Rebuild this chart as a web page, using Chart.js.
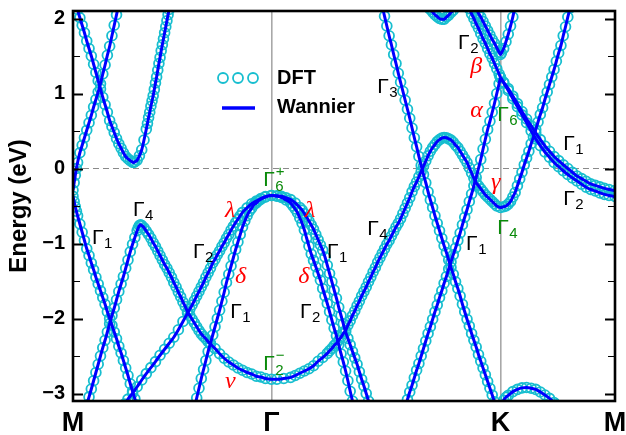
<!DOCTYPE html>
<html lang="en">
<head>
<meta charset="utf-8">
<title>Band structure: DFT vs Wannier</title>
<script src="https://cdn.jsdelivr.net/npm/chart.js@4.4.1/dist/chart.umd.min.js"></script>
<style>
  html, body { margin: 0; padding: 0; background: #fff; }
  #box { position: relative; width: 626px; height: 435px; }
</style>
</head>
<body>
<div id="box"><canvas id="bands" width="626" height="435"></canvas></div>
<script>
// High-symmetry path M–Γ–K–M, path length in units of |ΓK|
const kPath = [0, 0.866, 1.866, 2.366];
const kLabels = ['M', 'Γ', 'K', 'M'];
const eTicks = [-3, -2, -1, 0, 1, 2];
const eMin = -3.1, eMax = 2.1;
const fermiLevel = 0;
const seriesNames = ['DFT', 'Wannier'];

// Bands as [k, E (eV)] pairs
const band01 = [[0,-0.29],[0.005,-0.19],[0.01,-0.09],[0.015,0.0],[0.02,0.08],[0.03,0.21],[0.04,0.31],[0.05,0.41],[0.06,0.51],[0.07,0.61],[0.08,0.71],[0.09,0.82],[0.1,0.92],[0.11,1.02],[0.12,1.13],[0.13,1.26],[0.14,1.38],[0.15,1.51],[0.16,1.63],[0.17,1.77],[0.18,1.91],[0.19,2.05],[0.2,2.19]];
const band02 = [[0,-0.37],[0.005,-0.44],[0.01,-0.51],[0.015,-0.57],[0.02,-0.63],[0.03,-0.74],[0.04,-0.85],[0.05,-0.96],[0.06,-1.07],[0.07,-1.16],[0.08,-1.26],[0.09,-1.35],[0.1,-1.45],[0.11,-1.54],[0.12,-1.63],[0.13,-1.72],[0.14,-1.81],[0.15,-1.91],[0.16,-2.0],[0.17,-2.09],[0.18,-2.18],[0.19,-2.27],[0.2,-2.37],[0.21,-2.46],[0.22,-2.56],[0.23,-2.66],[0.24,-2.76],[0.25,-2.87],[0.26,-2.97],[0.27,-3.07],[0.28,-3.15]];
const band03 = [[0.015,2.2],[0.02,2.12],[0.03,2.01],[0.04,1.91],[0.05,1.81],[0.06,1.7],[0.07,1.6],[0.08,1.5],[0.09,1.39],[0.1,1.28],[0.11,1.17],[0.12,1.06],[0.13,0.95],[0.14,0.85],[0.15,0.75],[0.16,0.64],[0.17,0.56],[0.18,0.48],[0.19,0.4],[0.2,0.33],[0.21,0.27],[0.22,0.21],[0.23,0.16],[0.24,0.13],[0.25,0.105],[0.26,0.085],[0.265,0.08],[0.27,0.09],[0.28,0.11],[0.29,0.17],[0.3,0.25],[0.31,0.38],[0.32,0.525],[0.325,0.6],[0.33,0.68],[0.335,0.75],[0.34,0.83],[0.345,0.9],[0.35,0.97],[0.355,1.055],[0.36,1.14],[0.365,1.22],[0.37,1.31],[0.375,1.4],[0.38,1.48],[0.385,1.57],[0.39,1.65],[0.395,1.73],[0.4,1.81],[0.405,1.89],[0.41,1.97],[0.415,2.05],[0.42,2.12],[0.425,2.2]];
const band04 = [[0.056,-3.19],[0.06,-3.15],[0.07,-3.045],[0.08,-2.94],[0.09,-2.83],[0.1,-2.72],[0.11,-2.61],[0.12,-2.5],[0.13,-2.39],[0.14,-2.29],[0.15,-2.18],[0.16,-2.07],[0.17,-1.96],[0.18,-1.86],[0.19,-1.75],[0.2,-1.64],[0.21,-1.54],[0.22,-1.44],[0.23,-1.33],[0.24,-1.22],[0.25,-1.11],[0.26,-1.01],[0.27,-0.92],[0.28,-0.83],[0.285,-0.79],[0.29,-0.76],[0.295,-0.75],[0.3,-0.76],[0.31,-0.79],[0.32,-0.836],[0.33,-0.88],[0.34,-0.93],[0.35,-0.99],[0.36,-1.04],[0.37,-1.1],[0.38,-1.16],[0.39,-1.22],[0.4,-1.28],[0.41,-1.33],[0.42,-1.39],[0.43,-1.45],[0.44,-1.52],[0.45,-1.58],[0.46,-1.65],[0.47,-1.71],[0.48,-1.78],[0.49,-1.84],[0.5,-1.91],[0.51,-1.96],[0.52,-2.01],[0.53,-2.06],[0.54,-2.11],[0.55,-2.16],[0.56,-2.205],[0.57,-2.24],[0.58,-2.27],[0.59,-2.31],[0.6,-2.34],[0.62,-2.4],[0.64,-2.47],[0.66,-2.53],[0.68,-2.58],[0.7,-2.62],[0.72,-2.66],[0.74,-2.69],[0.76,-2.72],[0.78,-2.74],[0.8,-2.77],[0.82,-2.78],[0.84,-2.8],[0.866,-2.81],[0.89,-2.81],[0.92,-2.8],[0.95,-2.785],[0.97,-2.76],[0.99,-2.73],[1.01,-2.7],[1.03,-2.67],[1.05,-2.63],[1.07,-2.57],[1.09,-2.52],[1.11,-2.465],[1.12,-2.43],[1.13,-2.4],[1.14,-2.36],[1.15,-2.33],[1.16,-2.29],[1.17,-2.25],[1.18,-2.2],[1.19,-2.16],[1.2,-2.09],[1.21,-2.03],[1.22,-1.96],[1.23,-1.9],[1.24,-1.83],[1.25,-1.77],[1.26,-1.7],[1.27,-1.64],[1.28,-1.58],[1.29,-1.51],[1.3,-1.45],[1.31,-1.38],[1.32,-1.32],[1.33,-1.25],[1.34,-1.19],[1.35,-1.13],[1.36,-1.07],[1.37,-1.01],[1.38,-0.96],[1.39,-0.9],[1.4,-0.84],[1.41,-0.78],[1.42,-0.73],[1.43,-0.67],[1.44,-0.6],[1.45,-0.53],[1.46,-0.46],[1.47,-0.39],[1.48,-0.31],[1.49,-0.24],[1.5,-0.18],[1.51,-0.11],[1.52,-0.04],[1.53,0.03],[1.54,0.1],[1.55,0.17],[1.56,0.23],[1.57,0.28],[1.58,0.32],[1.59,0.36],[1.6,0.385],[1.61,0.405],[1.62,0.413],[1.63,0.41],[1.64,0.395],[1.65,0.38],[1.66,0.35],[1.67,0.31],[1.68,0.28],[1.69,0.23],[1.7,0.18],[1.71,0.13],[1.72,0.08],[1.73,0.01],[1.74,-0.06],[1.75,-0.13],[1.76,-0.19],[1.77,-0.23],[1.78,-0.27],[1.79,-0.31],[1.8,-0.35],[1.81,-0.38],[1.82,-0.41],[1.83,-0.44],[1.84,-0.47],[1.85,-0.5],[1.866,-0.52],[1.88,-0.51],[1.89,-0.5],[1.9,-0.475],[1.91,-0.44],[1.92,-0.38],[1.93,-0.32],[1.94,-0.23],[1.95,-0.14],[1.96,-0.05],[1.97,0.05],[1.98,0.14],[1.99,0.23],[2.0,0.33],[2.01,0.42],[2.02,0.52],[2.03,0.62],[2.04,0.72],[2.05,0.81],[2.06,0.92],[2.07,1.02],[2.08,1.12],[2.09,1.22],[2.1,1.32],[2.11,1.43],[2.12,1.54],[2.13,1.64],[2.14,1.77],[2.15,1.89],[2.16,2.02],[2.17,2.14],[2.175,2.2]];
const band05 = [[0.225,-3.14],[0.24,-3.075],[0.26,-2.995],[0.28,-2.91],[0.3,-2.82],[0.32,-2.735],[0.34,-2.655],[0.36,-2.575],[0.38,-2.49],[0.4,-2.41],[0.42,-2.33],[0.44,-2.25],[0.46,-2.15],[0.48,-2.04],[0.5,-1.93],[0.51,-1.875],[0.52,-1.82],[0.53,-1.76],[0.54,-1.7],[0.55,-1.64],[0.56,-1.58],[0.57,-1.52],[0.58,-1.45],[0.59,-1.39],[0.6,-1.33],[0.61,-1.26],[0.62,-1.21],[0.63,-1.15],[0.64,-1.1],[0.65,-1.04],[0.66,-0.99],[0.67,-0.93],[0.68,-0.88],[0.69,-0.82],[0.7,-0.77],[0.71,-0.72],[0.72,-0.675],[0.73,-0.63],[0.74,-0.585],[0.76,-0.525],[0.78,-0.47],[0.8,-0.435],[0.82,-0.4],[0.84,-0.375],[0.866,-0.36],[0.89,-0.363],[0.91,-0.37],[0.93,-0.39],[0.95,-0.415],[0.97,-0.46],[0.99,-0.52],[1.0,-0.555],[1.01,-0.6],[1.02,-0.65],[1.03,-0.7],[1.04,-0.755],[1.05,-0.81],[1.06,-0.88],[1.07,-0.95],[1.08,-1.02],[1.09,-1.09],[1.1,-1.18],[1.11,-1.29],[1.12,-1.4],[1.13,-1.51],[1.14,-1.62],[1.15,-1.73],[1.16,-1.85],[1.17,-1.96],[1.18,-2.07],[1.19,-2.18],[1.2,-2.265],[1.21,-2.35],[1.22,-2.44],[1.23,-2.525],[1.24,-2.61],[1.25,-2.71],[1.26,-2.81],[1.27,-2.9],[1.28,-3.0],[1.29,-3.1],[1.3,-3.19]];
const band06 = [[0.53,-3.19],[0.54,-3.06],[0.55,-2.93],[0.56,-2.8],[0.57,-2.68],[0.58,-2.56],[0.59,-2.44],[0.6,-2.33],[0.61,-2.22],[0.62,-2.11],[0.63,-2.0],[0.64,-1.89],[0.65,-1.77],[0.66,-1.65],[0.67,-1.52],[0.68,-1.41],[0.69,-1.3],[0.7,-1.19],[0.71,-1.08],[0.72,-0.98],[0.73,-0.88],[0.74,-0.78],[0.75,-0.7],[0.76,-0.63],[0.77,-0.57],[0.78,-0.53],[0.79,-0.48],[0.8,-0.46],[0.81,-0.43],[0.82,-0.41],[0.84,-0.38],[0.866,-0.36],[0.89,-0.37],[0.91,-0.385],[0.93,-0.42],[0.95,-0.46],[0.96,-0.5],[0.97,-0.54],[0.98,-0.59],[0.99,-0.66],[1.0,-0.73],[1.01,-0.82],[1.02,-0.93],[1.03,-1.035],[1.04,-1.14],[1.05,-1.225],[1.06,-1.31],[1.07,-1.4],[1.08,-1.49],[1.09,-1.6],[1.1,-1.7],[1.11,-1.8],[1.12,-1.91],[1.13,-2.02],[1.14,-2.13],[1.15,-2.23],[1.16,-2.35],[1.17,-2.47],[1.18,-2.58],[1.19,-2.7],[1.2,-2.83],[1.21,-2.97],[1.22,-3.1],[1.23,-3.23]];
const band07 = [[1.345,2.23],[1.35,2.16],[1.36,2.03],[1.37,1.9],[1.38,1.77],[1.39,1.65],[1.4,1.52],[1.41,1.4],[1.42,1.27],[1.43,1.15],[1.44,1.03],[1.45,0.91],[1.46,0.79],[1.47,0.67],[1.48,0.54],[1.49,0.41],[1.5,0.29],[1.51,0.16],[1.52,0.04],[1.53,-0.08],[1.54,-0.19],[1.55,-0.31],[1.56,-0.42],[1.57,-0.52],[1.58,-0.63],[1.59,-0.73],[1.6,-0.83],[1.61,-0.93],[1.62,-1.03],[1.63,-1.12],[1.64,-1.22],[1.65,-1.32],[1.66,-1.41],[1.67,-1.51],[1.68,-1.6],[1.69,-1.7],[1.7,-1.81],[1.71,-1.91],[1.72,-2.01],[1.73,-2.1],[1.74,-2.2],[1.75,-2.29],[1.76,-2.38],[1.77,-2.48],[1.78,-2.57],[1.79,-2.66],[1.8,-2.75],[1.81,-2.84],[1.82,-2.93],[1.83,-3.02],[1.84,-3.11],[1.85,-3.2]];
const band08 = [[1.45,-3.17],[1.46,-3.08],[1.47,-2.98],[1.48,-2.89],[1.49,-2.79],[1.5,-2.69],[1.51,-2.6],[1.52,-2.5],[1.53,-2.4],[1.54,-2.3],[1.55,-2.2],[1.56,-2.11],[1.57,-2.01],[1.58,-1.91],[1.59,-1.82],[1.6,-1.72],[1.61,-1.63],[1.62,-1.53],[1.63,-1.44],[1.64,-1.34],[1.65,-1.245],[1.66,-1.15],[1.67,-1.06],[1.68,-0.96],[1.69,-0.86],[1.7,-0.75],[1.71,-0.65],[1.72,-0.55],[1.73,-0.44],[1.74,-0.34],[1.75,-0.23],[1.76,-0.12],[1.77,0.0],[1.78,0.12],[1.79,0.26],[1.8,0.39],[1.81,0.52],[1.82,0.63],[1.83,0.75],[1.84,0.87],[1.85,1.0],[1.86,1.13],[1.866,1.213]];
const band09 = [[1.72,2.2],[1.73,2.13],[1.74,2.06],[1.75,2.0],[1.76,1.93],[1.77,1.87],[1.78,1.8],[1.79,1.73],[1.8,1.67],[1.81,1.6],[1.82,1.53],[1.83,1.47],[1.84,1.4],[1.85,1.33],[1.86,1.26],[1.866,1.213]];
const band10 = [[1.75,2.21],[1.76,2.14],[1.77,2.07],[1.78,2.02],[1.79,1.96],[1.8,1.9],[1.81,1.84],[1.82,1.78],[1.83,1.72],[1.84,1.67],[1.85,1.61],[1.86,1.55],[1.866,1.52],[1.87,1.54],[1.88,1.6],[1.89,1.69],[1.9,1.79],[1.91,1.9],[1.92,2.02],[1.93,2.17]];
const band11 = [[1.54,2.19],[1.55,2.15],[1.56,2.12],[1.57,2.085],[1.58,2.05],[1.59,2.025],[1.6,2.0],[1.61,1.99],[1.62,1.99],[1.63,2.02],[1.64,2.045],[1.65,2.08],[1.66,2.11],[1.67,2.16],[1.68,2.2]];
const band12 = [[1.866,1.213],[1.88,1.15],[1.9,1.065],[1.92,0.965],[1.94,0.865],[1.96,0.76],[1.98,0.66],[2.0,0.57],[2.02,0.475],[2.04,0.385],[2.06,0.3],[2.08,0.23],[2.1,0.16],[2.12,0.105],[2.14,0.05],[2.16,0.0],[2.18,-0.05],[2.2,-0.1],[2.22,-0.135],[2.24,-0.17],[2.26,-0.205],[2.28,-0.225],[2.3,-0.245],[2.32,-0.265],[2.34,-0.28],[2.366,-0.293]];
const band13 = [[1.866,1.213],[1.88,1.14],[1.9,1.04],[1.92,0.93],[1.94,0.825],[1.96,0.715],[1.98,0.61],[2.0,0.5],[2.02,0.395],[2.04,0.305],[2.06,0.22],[2.08,0.15],[2.1,0.08],[2.12,0.025],[2.14,-0.03],[2.16,-0.08],[2.18,-0.125],[2.2,-0.165],[2.22,-0.21],[2.24,-0.25],[2.26,-0.28],[2.28,-0.3],[2.3,-0.325],[2.32,-0.345],[2.34,-0.36],[2.366,-0.373]];
const band14 = [[1.87,-3.18],[1.88,-3.09],[1.89,-3.05],[1.9,-3.025],[1.92,-2.975],[1.94,-2.945],[1.96,-2.925],[1.98,-2.92],[2.0,-2.93],[2.02,-2.945],[2.04,-2.98],[2.06,-3.02],[2.08,-3.065],[2.1,-3.12],[2.11,-3.15]];

const bands = [band01, band02, band03, band04, band05, band06, band07,
               band08, band09, band10, band11, band12, band13, band14];

// Irreducible-representation tags (Γ with sub/superscript) and Greek band names
const irrepTags = [
  { sub: '4', k: 0.262, e: -0.627, color: '#000' },
  { sub: '1', k: 0.083, e: -1.013, color: '#000' },
  { sub: '2', k: 0.524, e: -1.187, color: '#000' },
  { sub: '1', k: 0.686, e: -1.987, color: '#000' },
  { sub: '6', sup: '+', k: 0.830, e: -0.227, color: '#0a8a0a' },
  { sub: '2', sup: '\u2212', k: 0.830, e: -2.68, color: '#0a8a0a' },
  { sub: '1', k: 1.109, e: -1.187, color: '#000' },
  { sub: '2', k: 0.991, e: -1.987, color: '#000' },
  { sub: '4', k: 1.284, e: -0.88, color: '#000' },
  { sub: '3', k: 1.328, e: 1.013, color: '#000' },
  { sub: '2', k: 1.681, e: 1.587, color: '#000' },
  { sub: '6', k: 1.852, e: 0.627, color: '#0a8a0a' },
  { sub: '1', k: 2.140, e: 0.253, color: '#000' },
  { sub: '2', k: 2.140, e: -0.48, color: '#000' },
  { sub: '4', k: 1.852, e: -0.867, color: '#0a8a0a' },
  { sub: '1', k: 1.716, e: -1.08, color: '#000' }
];
const greekTags = [
  { t: 'λ', k: 0.664, e: -0.64 },
  { t: 'λ', k: 1.013, e: -0.64 },
  { t: 'δ', k: 0.707, e: -1.52 },
  { t: 'δ', k: 0.983, e: -1.52 },
  { t: 'ν', k: 0.664, e: -2.92 },
  { t: 'β', k: 1.734, e: 1.28 },
  { t: 'α', k: 1.734, e: 0.693 },
  { t: 'γ', k: 1.825, e: -0.267 }
];

const CYAN = '#17becf';
const BLUE = '#0000ff';
const SANS = '"Liberation Sans", Arial, sans-serif';
const SERIF = '"Liberation Serif", "Times New Roman", serif';

const toXY = b => b.map(([k, e]) => ({ x: k, y: e }));

const datasets = [];
bands.forEach(b => {
  datasets.push({
    label: seriesNames[1], data: toXY(b), showLine: true,
    borderColor: BLUE, borderWidth: 3, pointRadius: 0,
    borderJoinStyle: 'round', cubicInterpolationMode: 'monotone',
    order: 1, clip: 0
  });
  datasets.push({
    label: seriesNames[0], data: toXY(b), showLine: false,
    pointRadius: 4.9, pointStyle: 'circle',
    pointBorderColor: CYAN, pointBackgroundColor: 'rgba(0,0,0,0)', pointBorderWidth: 1.8,
    order: 2, clip: 0
  });
});
// Fermi level
datasets.push({
  data: [{ x: kPath[0], y: fermiLevel }, { x: kPath[kPath.length - 1], y: fermiLevel }],
  showLine: true, borderColor: '#8a8a8a', borderWidth: 1.2, borderDash: [6, 4],
  pointRadius: 0, order: 3, clip: 0
});

// Frame and inward ticks on both energy axes
const framePlugin = {
  id: 'frame',
  afterDatasetsDraw(chart) {
    const { ctx, chartArea: a, scales: { y } } = chart;
    ctx.save();
    ctx.strokeStyle = '#000';
    const minor = eTicks.slice(0, -1).map(v => v + 0.5);
    const tick = (v, len, lw) => {
      const py = Math.round(y.getPixelForValue(v)) + 0.5;
      ctx.lineWidth = lw;
      ctx.beginPath();
      ctx.moveTo(a.left, py); ctx.lineTo(a.left + len, py);
      ctx.moveTo(a.right, py); ctx.lineTo(a.right - len, py);
      ctx.stroke();
    };
    eTicks.forEach(v => tick(v, 10, 1.8));
    minor.forEach(v => tick(v, 7, 1.2));
    ctx.lineWidth = 2.6;
    ctx.strokeRect(a.left, a.top, a.right - a.left, a.bottom - a.top);
    ctx.restore();
  }
};

// Band labels placed in (k, E) through the scales
const tagPlugin = {
  id: 'bandTags',
  afterDatasetsDraw(chart) {
    const { ctx, scales: { x, y } } = chart;
    ctx.save();
    ctx.textAlign = 'left';
    ctx.textBaseline = 'alphabetic';
    irrepTags.forEach(t => {
      const px = x.getPixelForValue(t.k), py = y.getPixelForValue(t.e);
      ctx.fillStyle = t.color;
      ctx.font = '21px ' + SANS;
      ctx.fillText('Γ', px, py);
      const w = ctx.measureText('Γ').width;
      ctx.font = '15px ' + SANS;
      if (t.sub) ctx.fillText(t.sub, px + w + 0.5, py + (t.sup ? 5 : 4));
      if (t.sup) ctx.fillText(t.sup, px + w + 1, py - 10);
    });
    ctx.fillStyle = '#ff0000';
    ctx.font = 'italic 24px ' + SERIF;
    greekTags.forEach(t => {
      ctx.fillText(t.t, x.getPixelForValue(t.k), y.getPixelForValue(t.e));
    });
    ctx.restore();
  }
};

// Series key (open circles for DFT, solid line for Wannier)
const keyPlugin = {
  id: 'seriesKey',
  afterDatasetsDraw(chart) {
    const ctx = chart.ctx;
    ctx.save();
    ctx.strokeStyle = CYAN;
    ctx.lineWidth = 1.8;
    [223, 238, 253].forEach(cx => {
      ctx.beginPath(); ctx.arc(cx, 78, 5, 0, Math.PI * 2); ctx.stroke();
    });
    ctx.strokeStyle = BLUE;
    ctx.lineWidth = 3.5;
    ctx.beginPath(); ctx.moveTo(222, 108); ctx.lineTo(255, 108); ctx.stroke();
    ctx.fillStyle = '#000';
    ctx.font = 'bold 20px ' + SANS;
    ctx.textBaseline = 'middle';
    ctx.textAlign = 'left';
    ctx.fillText(seriesNames[0], 277, 78);
    ctx.fillText(seriesNames[1], 277, 107);
    ctx.restore();
  }
};

new Chart(document.getElementById('bands'), {
  type: 'line',
  data: { datasets },
  options: {
    responsive: false,
    devicePixelRatio: 1,
    animation: false,
    events: [],
    layout: { padding: { top: 11, right: 11, bottom: 0, left: 0 } },
    plugins: { legend: { display: false }, tooltip: { enabled: false } },
    scales: {
      x: {
        type: 'linear',
        min: kPath[0],
        max: kPath[kPath.length - 1],
        afterBuildTicks: s => { s.ticks = kPath.map(v => ({ value: v })); },
        afterFit: s => { s.height = 34; s.paddingLeft = 0; s.paddingRight = 0; },
        ticks: {
          autoSkip: false, maxRotation: 0, minRotation: 0, padding: 6,
          color: '#000', font: { family: SANS, size: 27, weight: 'bold' },
          callback: (v, i) => kLabels[i]
        },
        grid: {
          drawTicks: false,
          lineWidth: 1.6,
          color: c => (c.index === 1 || c.index === 2) ? '#a8a8a8' : 'rgba(0,0,0,0)'
        },
        border: { display: false }
      },
      y: {
        type: 'linear',
        min: eMin,
        max: eMax,
        afterBuildTicks: s => { s.ticks = eTicks.map(v => ({ value: v })); },
        afterFit: s => { s.width = 73; s.paddingTop = 0; s.paddingBottom = 0; },
        ticks: {
          padding: 8, color: '#000',
          font: { family: SANS, size: 20, weight: 'bold' },
          callback: v => v < 0 ? '\u2212' + Math.abs(v) : String(v)
        },
        grid: { display: false, drawTicks: false },
        border: { display: false },
        title: {
          display: true, text: 'Energy (eV)', color: '#000',
          font: { family: SANS, size: 24, weight: 'bold' },
          padding: { top: 5, bottom: 0 }
        }
      }
    }
  },
  plugins: [framePlugin, tagPlugin, keyPlugin]
});
</script>
</body>
</html>
